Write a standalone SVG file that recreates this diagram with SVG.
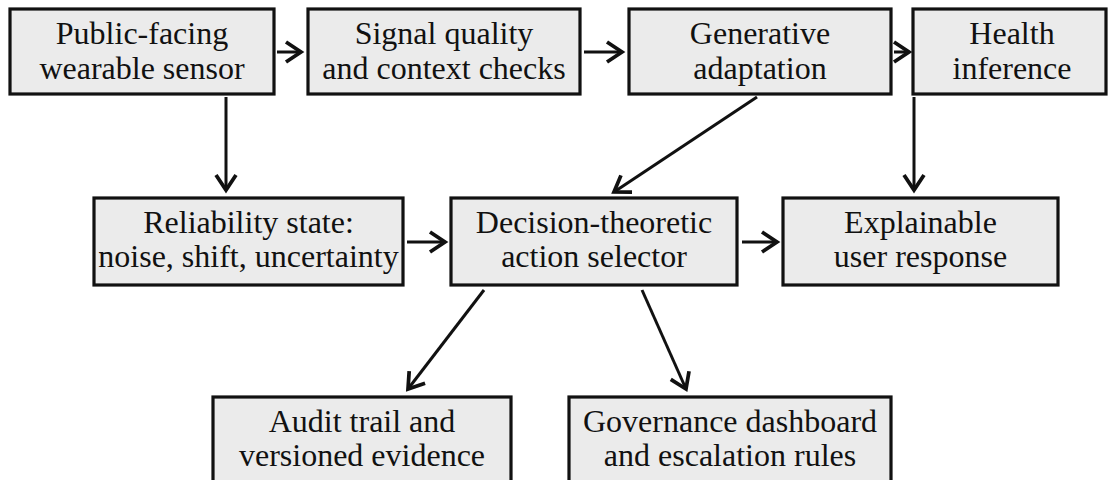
<svg xmlns="http://www.w3.org/2000/svg" width="1109" height="480" viewBox="0 0 1109 480">
  <style>
    .box { fill: #ebebeb; stroke: #111; stroke-width: 3.2; }
    .lbl { font-family: "Liberation Serif", "Times New Roman", serif; font-size: 32px; fill: #111; text-anchor: middle; }
    .edge { stroke: #111; stroke-width: 3; fill: none; marker-end: url(#head); }
  </style>
  <defs>
    <marker id="head" markerUnits="userSpaceOnUse" markerWidth="30" markerHeight="30" viewBox="-16 -12 20 24" refX="0" refY="0" orient="auto">
      <path d="M-12,-8 L0,0 L-12,8" fill="none" stroke="#111" stroke-width="3" stroke-linejoin="miter"/>
    </marker>
  </defs>
  <rect width="1109" height="480" fill="#fff"/>

  <g id="connectors">
    <line class="edge" x1="277" y1="52" x2="301" y2="52"/>
    <line class="edge" x1="584" y1="52" x2="622" y2="52"/>
    <line class="edge" x1="894" y1="52" x2="909" y2="52"/>
    <line class="edge" x1="226" y1="97" x2="226" y2="190"/>
    <line class="edge" x1="757" y1="97" x2="614" y2="192"/>
    <line class="edge" x1="914" y1="97" x2="914" y2="190"/>
    <line class="edge" x1="407" y1="242" x2="445" y2="242"/>
    <line class="edge" x1="742" y1="242" x2="777" y2="242"/>
    <line class="edge" x1="484" y1="290" x2="408" y2="389"/>
    <line class="edge" x1="642" y1="290" x2="686" y2="389"/>
  </g>

  <g id="sensor">
    <rect class="box" x="10" y="9" width="264" height="85"/>
    <text class="lbl" x="142" y="44">Public-facing</text>
    <text class="lbl" x="142" y="79">wearable sensor</text>
  </g>
  <g id="checks">
    <rect class="box" x="308" y="9" width="272" height="85"/>
    <text class="lbl" x="444" y="44">Signal quality</text>
    <text class="lbl" x="444" y="79">and context checks</text>
  </g>
  <g id="adaptation">
    <rect class="box" x="629" y="9" width="262" height="85"/>
    <text class="lbl" x="760" y="44">Generative</text>
    <text class="lbl" x="760" y="79">adaptation</text>
  </g>
  <g id="inference">
    <rect class="box" x="913" y="9" width="193" height="85"/>
    <text class="lbl" x="1012" y="44">Health</text>
    <text class="lbl" x="1012" y="79">inference</text>
  </g>
  <g id="reliability">
    <rect class="box" x="94" y="198" width="309" height="87"/>
    <text class="lbl" x="248.5" y="233">Reliability state:</text>
    <text class="lbl" x="248.5" y="267">noise, shift, uncertainty</text>
  </g>
  <g id="selector">
    <rect class="box" x="451" y="198" width="286" height="87"/>
    <text class="lbl" x="594" y="233">Decision-theoretic</text>
    <text class="lbl" x="594" y="267">action selector</text>
  </g>
  <g id="response">
    <rect class="box" x="783" y="198" width="275" height="87"/>
    <text class="lbl" x="920.5" y="233">Explainable</text>
    <text class="lbl" x="920.5" y="267">user response</text>
  </g>
  <g id="audit">
    <rect class="box" x="213" y="397" width="298" height="88"/>
    <text class="lbl" x="362" y="432">Audit trail and</text>
    <text class="lbl" x="362" y="466">versioned evidence</text>
  </g>
  <g id="governance">
    <rect class="box" x="569" y="397" width="322" height="88"/>
    <text class="lbl" x="730" y="432">Governance dashboard</text>
    <text class="lbl" x="730" y="466">and escalation rules</text>
  </g>
</svg>
